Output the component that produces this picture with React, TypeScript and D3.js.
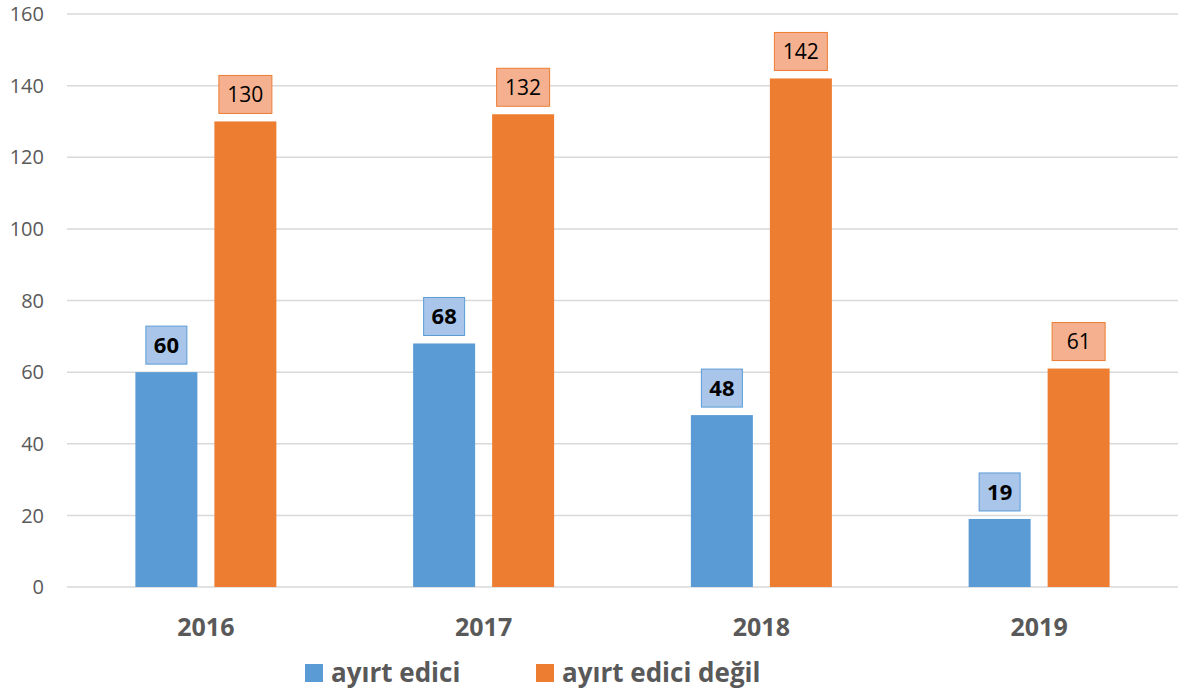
import React, { useEffect, useRef } from 'react';
import * as d3 from 'd3';

const years = ['2016', '2017', '2018', '2019'];
const distinctive = [60, 68, 48, 19];
const notDistinctive = [130, 132, 142, 61];
const yTicks = [0, 20, 40, 60, 80, 100, 120, 140, 160];
const seriesNames = ['ayırt edici', 'ayırt edici değil'];

const W = 1182;
const H = 695;
const FONT = '"Open Sans", "Noto Sans", sans-serif';

const App: React.FC = () => {
  const svgRef = useRef<SVGSVGElement>(null);

  useEffect(() => {
    if (!svgRef.current) return;
    const svg = d3.select(svgRef.current);
    svg.selectAll('*').remove();

    const left = 67;
    const right = 1178;
    const top = 14;
    const bottom = 587;

    const x = d3.scaleBand<string>().domain(years).range([left, right]);
    const y = d3.scaleLinear().domain([0, 160]).range([bottom, top]);

    const barW = 62;
    const gap = 17;

    // Grid
    svg.append('g')
      .selectAll('line')
      .data(yTicks)
      .enter()
      .append('line')
      .attr('x1', left)
      .attr('x2', right)
      .attr('y1', d => y(d))
      .attr('y2', d => y(d))
      .attr('stroke', '#d9d9d9')
      .attr('stroke-width', 1.5);

    // Y tick labels
    svg.append('g')
      .selectAll('text')
      .data(yTicks)
      .enter()
      .append('text')
      .attr('x', 44)
      .attr('y', d => y(d))
      .attr('dy', '0.36em')
      .attr('text-anchor', 'end')
      .attr('fill', '#595959')
      .attr('font-family', FONT)
      .attr('font-size', 20)
      .text(d => d);

    const series = [
      { values: distinctive, color: '#5b9bd5', boxFill: '#a9c6ea', boxStroke: '#5b9bd5', offset: -gap / 2 - barW, bold: true, boxW: 41 },
      { values: notDistinctive, color: '#ed7d31', boxFill: '#f4b08f', boxStroke: '#ed7d31', offset: gap / 2, bold: false, boxW: 53 },
    ];

    series.forEach(s => {
      const g = svg.append('g');
      g.selectAll('rect.bar')
        .data(s.values)
        .enter()
        .append('rect')
        .attr('x', (_, i) => (x(years[i]) as number) + x.bandwidth() / 2 + s.offset)
        .attr('y', d => y(d))
        .attr('width', barW)
        .attr('height', d => y(0) - y(d))
        .attr('fill', s.color);

      const lab = g.selectAll('g.lab')
        .data(s.values)
        .enter()
        .append('g')
        .attr('transform', (d, i) => {
          const cx = (x(years[i]) as number) + x.bandwidth() / 2 + s.offset + barW / 2;
          return `translate(${cx},${y(d) - 8 - 19})`;
        });
      lab.append('rect')
        .attr('x', -s.boxW / 2)
        .attr('y', -19)
        .attr('width', s.boxW)
        .attr('height', 38)
        .attr('fill', s.boxFill)
        .attr('stroke', s.boxStroke)
        .attr('stroke-width', 1);
      lab.append('text')
        .attr('text-anchor', 'middle')
        .attr('dy', '0.36em')
        .attr('fill', '#000')
        .attr('font-family', FONT)
        .attr('font-size', s.bold ? 22 : 21)
        .attr('font-weight', s.bold ? 'bold' : 'normal')
        .text(d => d);
    });

    // Category labels
    svg.append('g')
      .selectAll('text')
      .data(years)
      .enter()
      .append('text')
      .attr('x', d => (x(d) as number) + x.bandwidth() / 2)
      .attr('y', 627)
      .attr('dy', '0.36em')
      .attr('text-anchor', 'middle')
      .attr('fill', '#595959')
      .attr('font-family', FONT)
      .attr('font-size', 25)
      .attr('font-weight', 'bold')
      .text(d => d);

    // Legend
    const legendX = [305, 536];
    const legendColors = ['#5b9bd5', '#ed7d31'];
    seriesNames.forEach((name, i) => {
      svg.append('rect')
        .attr('x', legendX[i])
        .attr('y', 664)
        .attr('width', 18)
        .attr('height', 18)
        .attr('fill', legendColors[i]);
      svg.append('text')
        .attr('x', legendX[i] + 26)
        .attr('y', 682)
        .attr('fill', '#595959')
        .attr('font-family', FONT)
        .attr('font-size', 26)
        .attr('font-weight', 'bold')
        .text(name);
    });
  }, []);

  return <svg ref={svgRef} width={W} height={H} style={{ display: 'block', position: 'absolute', left: 0, top: 0, background: '#fff' }} />;
};

export default App;
